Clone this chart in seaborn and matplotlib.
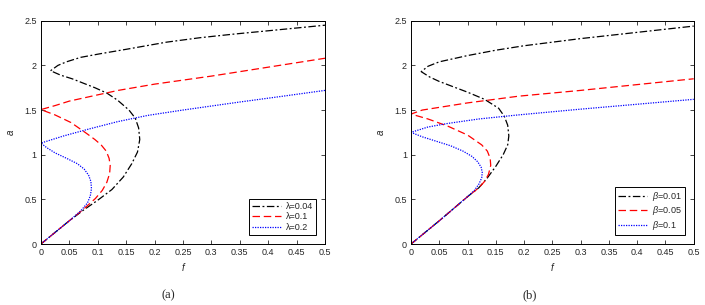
import matplotlib
matplotlib.use('Agg')
import matplotlib.pyplot as plt
import seaborn as sns
import numpy as np

# panel (a): response curves, f vs a, for three lambda values
f_a1 = [0.0, 0.025, 0.05, 0.075, 0.1, 0.125, 0.145, 0.16, 0.17, 0.174, 0.172, 0.166, 0.155, 0.135, 0.116, 0.095, 0.075, 0.055, 0.035, 0.017,
        0.03, 0.045, 0.07, 0.104, 0.15, 0.221, 0.28, 0.339, 0.42, 0.5]
a_a1 = [0.0, 0.13, 0.26, 0.38, 0.49, 0.61, 0.75, 0.9, 1.03, 1.17, 1.3, 1.41, 1.5, 1.61, 1.69, 1.75, 1.8, 1.85, 1.89, 1.94,
        2.0, 2.04, 2.09, 2.13, 2.18, 2.26, 2.31, 2.35, 2.4, 2.45]
f_a2 = [0.0, 0.025, 0.05, 0.075, 0.096, 0.108, 0.116, 0.121, 0.122, 0.12, 0.115, 0.106, 0.095, 0.08, 0.053, 0.025, 0.0,
        0.025, 0.05, 0.1, 0.136, 0.2, 0.3, 0.4, 0.5]
a_a2 = [0.0, 0.13, 0.26, 0.39, 0.51, 0.6, 0.69, 0.79, 0.88, 0.96, 1.04, 1.11, 1.17, 1.24, 1.36, 1.445, 1.505,
        1.55, 1.6, 1.67, 1.72, 1.79, 1.88, 1.98, 2.08]
f_a3 = [0.0, 0.025, 0.05, 0.07, 0.082, 0.087, 0.089, 0.088, 0.084, 0.076, 0.064, 0.045, 0.025, 0.01, 0.0,
        0.04, 0.083, 0.135, 0.188, 0.25, 0.35, 0.42, 0.5]
a_a3 = [0.0, 0.13, 0.26, 0.37, 0.46, 0.54, 0.62, 0.7, 0.77, 0.84, 0.9, 0.96, 1.02, 1.08, 1.13,
        1.21, 1.285, 1.37, 1.44, 1.5, 1.59, 1.65, 1.72]

# panel (b): response curves for three beta values
f_b1 = [0.0, 0.05, 0.1, 0.12, 0.135, 0.15, 0.163, 0.171, 0.173, 0.171, 0.165, 0.155, 0.13, 0.1, 0.075, 0.05, 0.033, 0.018,
        0.03, 0.05, 0.1, 0.15, 0.2, 0.3, 0.4, 0.5]
a_b1 = [0.0, 0.26, 0.53, 0.63, 0.74, 0.87, 1.0, 1.11, 1.21, 1.33, 1.43, 1.52, 1.62, 1.7, 1.76, 1.82, 1.87, 1.93,
        1.99, 2.04, 2.11, 2.17, 2.22, 2.3, 2.37, 2.44]
f_b2 = [0.0, 0.05, 0.1, 0.12, 0.13, 0.137, 0.141, 0.14, 0.135, 0.125, 0.1, 0.065, 0.03, 0.0,
        0.02, 0.05, 0.1, 0.19, 0.3, 0.4, 0.5]
a_b2 = [0.0, 0.26, 0.53, 0.63, 0.7, 0.78, 0.88, 0.96, 1.04, 1.11, 1.22, 1.32, 1.4, 1.455,
        1.5, 1.53, 1.58, 1.655, 1.72, 1.785, 1.85]
f_b3 = [0.0, 0.05, 0.1, 0.112, 0.12, 0.125, 0.126, 0.124, 0.118, 0.108, 0.092, 0.07, 0.045, 0.02, 0.0,
        0.03, 0.065, 0.12, 0.189, 0.3, 0.4, 0.5]
a_b3 = [0.0, 0.26, 0.53, 0.6, 0.67, 0.74, 0.8, 0.86, 0.92, 0.98, 1.04, 1.1, 1.15, 1.2, 1.25,
        1.31, 1.35, 1.4, 1.445, 1.51, 1.565, 1.62]

labels_a = ['λ=0.04', 'λ=0.1', 'λ=0.2']
labels_b = [r'$\mathit{β}$=0.01', r'$\mathit{β}$=0.05', r'$\mathit{β}$=0.1']

colors = ['black', 'red', 'blue']
styles = [(0, (6, 2, 1.5, 2)), (0, (6, 3)), (0, (1, 1))]

sns.set_style('ticks')
plt.rcParams['font.family'] = ['Liberation Sans', 'DejaVu Sans']
plt.rcParams['mathtext.fontset'] = 'custom'
plt.rcParams['mathtext.it'] = 'Liberation Sans:italic'
plt.rcParams['mathtext.rm'] = 'Liberation Sans'

fig = plt.figure(figsize=(7.05, 3.05), dpi=100)
ax1 = fig.add_axes([0.058, 0.2, 0.403, 0.732])
ax2 = fig.add_axes([0.583, 0.2, 0.401, 0.732])

panels = [
    (ax1, [(f_a1, a_a1), (f_a2, a_a2), (f_a3, a_a3)], labels_a),
    (ax2, [(f_b1, a_b1), (f_b2, a_b2), (f_b3, a_b3)], labels_b),
]

for ax, curves, labels in panels:
    for (fx, ay), lab, c, ls in zip(curves, labels, colors, styles):
        sns.lineplot(x=fx, y=ay, sort=False, estimator=None, ax=ax, color=c,
                     linestyle=ls, linewidth=0.9, label=lab)
    ax.set_xlim(0, 0.5)
    ax.set_ylim(0, 2.5)
    ax.set_xticks(np.arange(0, 0.51, 0.05))
    ax.set_xticklabels(['0', '0.05', '0.1', '0.15', '0.2', '0.25', '0.3', '0.35', '0.4', '0.45', '0.5'])
    ax.set_yticks(np.arange(0, 2.51, 0.5))
    ax.set_yticklabels(['0', '0.5', '1', '1.5', '2', '2.5'])
    ax.tick_params(direction='in', top=True, right=True, labelsize=6.5, length=3, width=0.6, pad=3)
    for sp in ax.spines.values():
        sp.set_linewidth(0.7)
        sp.set_color('black')
    ax.set_xlabel('f', fontstyle='italic', fontsize=7, labelpad=4)
    ax.set_ylabel('a', fontstyle='italic', fontsize=7, labelpad=6)
    leg = ax.legend(loc='lower right', fontsize=6.5, frameon=True, fancybox=False,
                    edgecolor='black', framealpha=1, handlelength=3.2,
                    borderaxespad=1.0, labelspacing=0.15, handletextpad=0.5,
                    borderpad=0.35)
    leg.get_frame().set_linewidth(0.7)

fig.text(168 / 705, 1 - 295 / 305, '(a)', ha='center', va='center', fontsize=9,
         family=['Liberation Serif', 'DejaVu Serif'])
fig.text(530 / 705, 1 - 295 / 305, '(b)', ha='center', va='center', fontsize=9,
         family=['Liberation Serif', 'DejaVu Serif'])

fig.savefig('out.png', dpi=100)
